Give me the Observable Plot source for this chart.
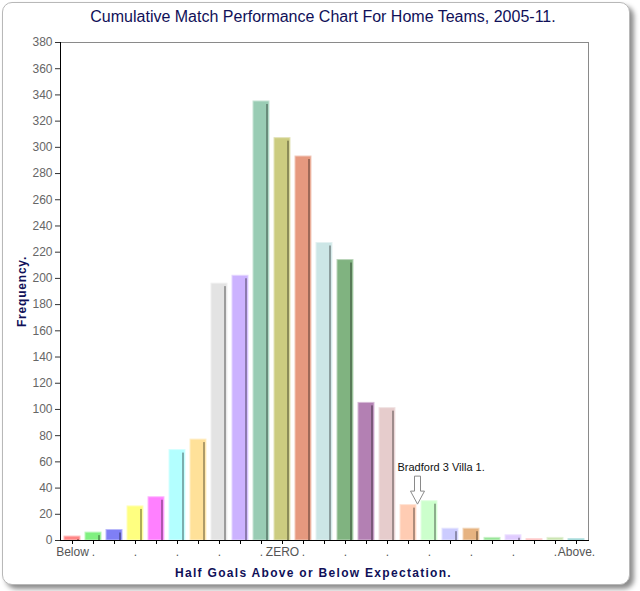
<!DOCTYPE html>
<html>
<head>
<meta charset="utf-8">
<script src="https://cdn.jsdelivr.net/npm/d3@7"></script>
<script src="https://cdn.jsdelivr.net/npm/@observablehq/plot@0.6"></script>
<style>
  html, body { margin: 0; padding: 0; background: #fff; width: 640px; height: 591px; overflow: hidden; }
  #card { position: absolute; left: 2px; top: 2px; width: 626px; height: 581px; border: 1px solid #b8b8b8; border-radius: 10px; box-shadow: 4px 4px 5px rgba(0,0,0,0.45); background: #fff; }
  #wrap { position: absolute; left: 0; top: 0; width: 640px; }
  #title { height: 30px; line-height: 34px; text-align: center; font-family: "Liberation Sans", Arial, sans-serif; font-size: 16px; color: #101058; padding-left: 6px; box-sizing: border-box; }
</style>
</head>
<body>
<div id="card"></div>
<div id="wrap">
  <div id="title">Cumulative Match Performance Chart For Home Teams, 2005-11.</div>
  <div id="chart"></div>
</div>
<script>
const categories = ["1","2","3","4","5","6","7","8","9","10","11","12","13","14","15","16","17","18","19","20","21","22","23","24","25"];
const values = [3, 6, 8, 26, 33, 69, 77, 196, 202, 335, 307, 293, 227, 214, 105, 101, 27, 30, 9, 9, 2, 4, 1, 2, 1];
const colors = ["#ff8585", "#80f080", "#7f7ff5", "#ffff80", "#ff80ff", "#b3ffff", "#ffe199", "#e3e3e3", "#ccb3ff", "#99ccb4", "#cccc80", "#e6997f", "#cce6e6", "#80b380", "#b380b3", "#e6cccc", "#ffccb3", "#ccffcc", "#ccccff", "#e6b380", "#99e699", "#e0ccff", "#ffb3b3", "#cce6b3", "#80cccc"];
const tickLabels = ["Below", ".", "", ".", "", ".", "", ".", "", ".", "ZERO", ".", "", ".", "", ".", "", ".", "", ".", "", ".", "", ".", "Above."];
const yTicks = [0,20,40,60,80,100,120,140,160,180,200,220,240,260,280,300,320,340,360,380];
const annotationCategory = ["17"];
const annotationText = ["Bradford 3 Villa 1."];
const yLabel = "Frequency.";
const xLabel = "Half Goals Above or Below Expectation.";

const data = categories.map((c, i) => ({cat: c, value: values[i], color: colors[i]}));
const light = c => d3.interpolateRgb(c, "#ffffff")(0.45);
const dark = c => d3.color(c).darker(1.3).formatHex();
const ann = annotationCategory.map((c, i) => ({cat: c, value: values[categories.indexOf(c)], text: annotationText[i]}));

const arrowSymbol = {
  draw(ctx, size) {
    ctx.moveTo(-3, -14);
    ctx.lineTo(3, -14);
    ctx.lineTo(3, 1);
    ctx.lineTo(7, 1);
    ctx.lineTo(0, 14);
    ctx.lineTo(-7, 1);
    ctx.lineTo(-3, 1);
    ctx.closePath();
  }
};

const navy = "#101058";
const font = "Liberation Sans, Arial, sans-serif";

const chart = Plot.plot({
  width: 640,
  height: 561,
  marginTop: 12,
  marginBottom: 51,
  marginLeft: 60,
  marginRight: 52,
  style: {fontFamily: font, fontSize: "12px", background: "transparent"},
  x: {domain: categories, paddingInner: 0.24, paddingOuter: 0.12, label: null},
  y: {domain: [0, 380], label: null},
  marks: [
    Plot.frame({stroke: "#8a8a8a"}),
    Plot.barY(data, {x: "cat", y: "value", fill: "color", stroke: d => light(d.color), strokeWidth: 1}),
    Plot.barY(data, {x: "cat", y: "value", fill: d => dark(d.color), insetLeft: 13, insetRight: 1, insetTop: 3, fillOpacity: 0.85}),
    Plot.axisY({ticks: yTicks, tickSize: 5, tickPadding: 3, color: "#666", stroke: "#333", label: null, fontSize: 12}),
    Plot.axisX({tickSize: 4, tickPadding: 3, tickFormat: d => tickLabels[categories.indexOf(d)], color: "#555", stroke: "#000", label: null, fontSize: 12}),
    Plot.frame({anchor: "left", stroke: "#000"}),
    Plot.frame({anchor: "bottom", stroke: "#000"}),
    Plot.text(ann, {x: "cat", y: "value", text: "text", textAnchor: "start", dx: -11, dy: -38, fontSize: 11, fill: "#111"}),
    Plot.dot(ann, {x: "cat", y: "value", symbol: arrowSymbol, r: 10, dx: 9, dy: -15, stroke: "#8a8a8a", fill: "#fff", strokeWidth: 1}),
    Plot.text([yLabel], {frameAnchor: "left", textAnchor: "middle", rotate: -90, dx: -38, fontWeight: "bold", fontSize: 12, fill: navy}),
    Plot.text([xLabel], {frameAnchor: "bottom", textAnchor: "middle", dy: 36, dx: -11, fontWeight: "bold", fontSize: 12, fill: navy})
  ]
});
d3.select(chart).selectAll("text").each(function() {
  const t = this.textContent;
  if (t === xLabel) this.setAttribute("letter-spacing", "1.3px");
  if (t === yLabel) this.setAttribute("letter-spacing", "0.8px");
});
document.getElementById("chart").appendChild(chart);
</script>
</body>
</html>
